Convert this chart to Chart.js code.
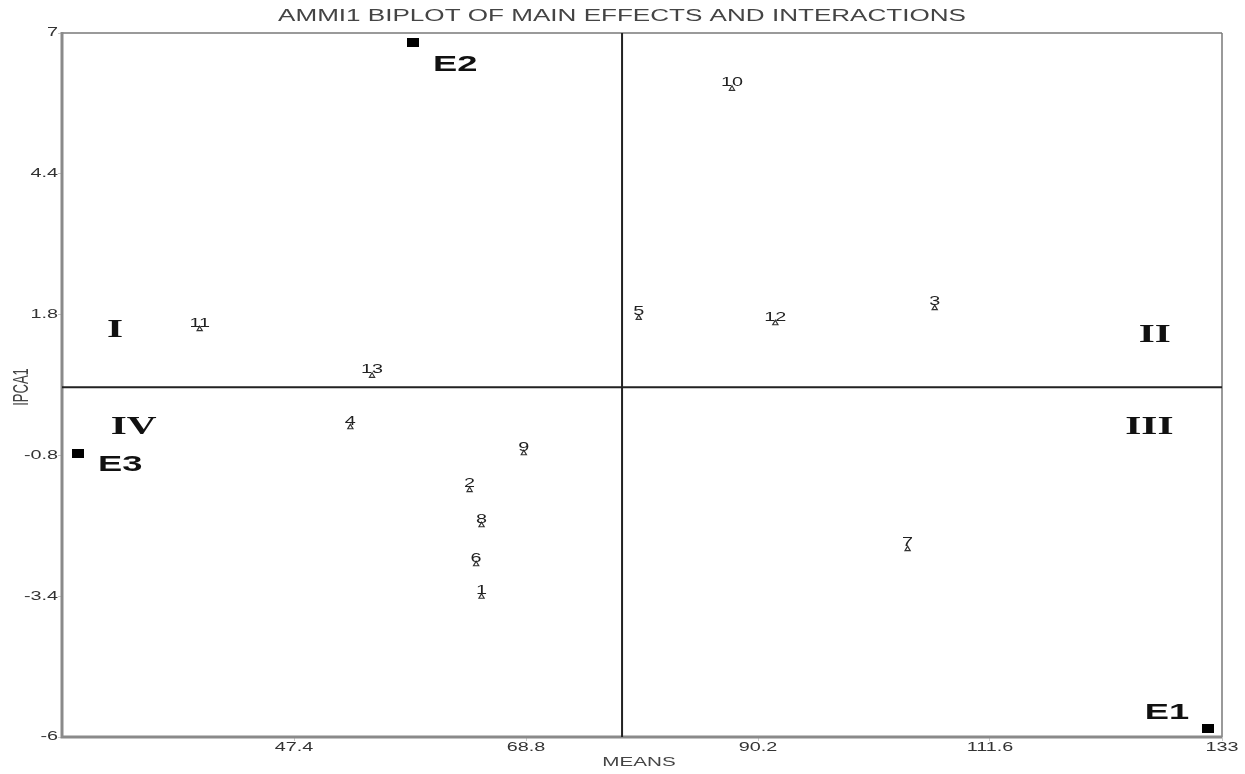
<!DOCTYPE html>
<html>
<head>
<meta charset="utf-8">
<script src="https://cdn.jsdelivr.net/npm/chart.js@4/dist/chart.umd.min.js"></script>
<style>
  body { margin: 0; background: #fff; }
  #wrap { width: 1245px; height: 774px; position: relative; }
</style>
</head>
<body>
<div id="wrap"><canvas id="biplot"></canvas></div>
<script>
// genotypes (means vs IPCA1 scores)
const genotypes = ['1', '2', '3', '4', '5', '6', '7', '8', '9', '10', '11', '12', '13'];
const genoMeans = [64.7, 63.6, 106.5, 52.6, 79.2, 64.2, 104.0, 64.7, 68.6, 87.8, 38.7, 91.8, 54.6];
const genoIpca  = [-3.41, -1.44, 1.92, -0.28, 1.74, -2.81, -2.53, -2.09, -0.76, 5.97, 1.53, 1.64, 0.67];

// environments
const envs = ['E1', 'E2', 'E3'];
const envMeans = [131.7, 58.4, 27.5];
const envIpca  = [-5.85, 6.83, -0.76];

// axis ticks and reference lines
const xTicks = [47.4, 68.8, 90.2, 111.6, 133];
const yTicks = [7, 4.4, 1.8, -0.8, -3.4, -6];
const grandMean = 77.66;
const ipcaMid = 0.46;

// quadrant names
const quadNames = ['I', 'II', 'III', 'IV'];
const quadX = [30.9, 126.8, 126.3, 32.6];
const quadY = [1.50, 1.42, -0.29, -0.29];

const SX = 1.65; // the original picture is stretched sideways

function stretchText(ctx, txt, x, y, font, align, base, color) {
  ctx.save();
  ctx.translate(x, y);
  ctx.scale(SX, 1);
  ctx.font = font;
  ctx.textAlign = align;
  ctx.textBaseline = base;
  ctx.fillStyle = color;
  ctx.fillText(txt, 0, 0);
  ctx.restore();
}

const envBox = document.createElement('canvas');
envBox.width = 12; envBox.height = 9;
const eb = envBox.getContext('2d');
eb.fillStyle = '#000';
eb.fillRect(0, 0, 12, 9);

const envOffsets = { E1: [-41, -16], E2: [42, 23], E3: [42, 12] };

const biplotDecor = {
  id: 'biplotDecor',
  beforeDatasetsDraw(chart) {
    const { ctx, chartArea: a, scales: { x, y } } = chart;
    ctx.save();
    // frame
    ctx.strokeStyle = '#7a7a7a';
    ctx.lineWidth = 1.5;
    ctx.beginPath();
    ctx.moveTo(a.left, a.top); ctx.lineTo(a.right, a.top);
    ctx.moveTo(a.right, a.top); ctx.lineTo(a.right, a.bottom);
    ctx.stroke();
    ctx.strokeStyle = '#8a8a8a';
    ctx.lineWidth = 3;
    ctx.beginPath();
    ctx.moveTo(a.left, a.top - 1); ctx.lineTo(a.left, a.bottom);
    ctx.lineTo(a.right, a.bottom);
    ctx.stroke();
    // mean lines
    ctx.strokeStyle = '#222';
    ctx.lineWidth = 2;
    const gx = x.getPixelForValue(grandMean);
    const gy = y.getPixelForValue(ipcaMid);
    ctx.beginPath();
    ctx.moveTo(gx, a.top); ctx.lineTo(gx, a.bottom);
    ctx.moveTo(a.left, gy); ctx.lineTo(a.right, gy);
    ctx.stroke();
    ctx.restore();
  },
  afterDatasetsDraw(chart) {
    const { ctx, scales: { x, y } } = chart;
    // tick labels
    x.ticks.forEach(t => {
      stretchText(ctx, String(t.value), x.getPixelForValue(t.value), 748, '12px Arial', 'center', 'middle', '#333');
    });
    y.ticks.forEach(t => {
      stretchText(ctx, String(t.value), 58, y.getPixelForValue(t.value), '12px Arial', 'right', 'middle', '#333');
    });
    // titles
    stretchText(ctx, 'AMMI1 BIPLOT OF MAIN EFFECTS AND INTERACTIONS', 622, 17, '15.8px Arial', 'center', 'middle', '#444');
    stretchText(ctx, 'MEANS', 639, 763, '12.5px Arial', 'center', 'middle', '#444');
    ctx.save();
    ctx.translate(22, 387);
    ctx.scale(SX, 1);
    ctx.rotate(-Math.PI / 2);
    ctx.font = '13px Arial';
    ctx.textAlign = 'center';
    ctx.textBaseline = 'middle';
    ctx.fillStyle = '#444';
    ctx.fillText('IPCA1', 0, 0);
    ctx.restore();
    // genotype numbers
    genotypes.forEach((g, i) => {
      const px = x.getPixelForValue(genoMeans[i]);
      const py = y.getPixelForValue(genoIpca[i]);
      stretchText(ctx, g, px, py, '12px Arial', 'center', 'bottom', '#222');
    });
    // environment names
    envs.forEach((e, i) => {
      const px = x.getPixelForValue(envMeans[i]);
      const py = y.getPixelForValue(envIpca[i]);
      const o = envOffsets[e];
      stretchText(ctx, e, px + o[0], py + o[1], 'bold 22px Arial', 'center', 'middle', '#111');
    });
    // quadrants
    quadNames.forEach((q, i) => {
      stretchText(ctx, q, x.getPixelForValue(quadX[i]), y.getPixelForValue(quadY[i]),
        'bold 25px "Liberation Serif"', 'center', 'middle', '#111');
    });
  }
};

new Chart(document.getElementById('biplot'), {
  type: 'scatter',
  data: {
    datasets: [
      {
        label: 'Genotypes',
        data: genoMeans.map((m, i) => ({ x: m, y: genoIpca[i] })),
        pointStyle: 'triangle',
        pointRadius: 3,
        borderWidth: 1.2,
        borderColor: '#333',
        backgroundColor: 'rgba(0,0,0,0)'
      },
      {
        label: 'Environments',
        data: envMeans.map((m, i) => ({ x: m, y: envIpca[i] })),
        pointStyle: envBox,
        pointRadius: 6
      }
    ]
  },
  options: {
    responsive: true,
    maintainAspectRatio: false,
    animation: false,
    layout: { padding: { top: 33, right: 23, left: 0, bottom: 0 } },
    plugins: { legend: { display: false }, tooltip: { enabled: false } },
    scales: {
      x: {
        type: 'linear',
        min: 26, max: 133,
        afterBuildTicks: s => { s.ticks = xTicks.map(v => ({ value: v })); },
        afterFit: s => { s.height = 37; },
        ticks: { display: false },
        border: { display: false },
        grid: { drawOnChartArea: false, tickLength: 4, color: '#c8c8c8' }
      },
      y: {
        type: 'linear',
        min: -6, max: 7,
        afterBuildTicks: s => { s.ticks = yTicks.map(v => ({ value: v })); },
        afterFit: s => { s.width = 62; },
        ticks: { display: false },
        border: { display: false },
        grid: { drawOnChartArea: false, tickLength: 4, color: '#c8c8c8' }
      }
    }
  },
  plugins: [biplotDecor]
});
</script>
</body>
</html>
